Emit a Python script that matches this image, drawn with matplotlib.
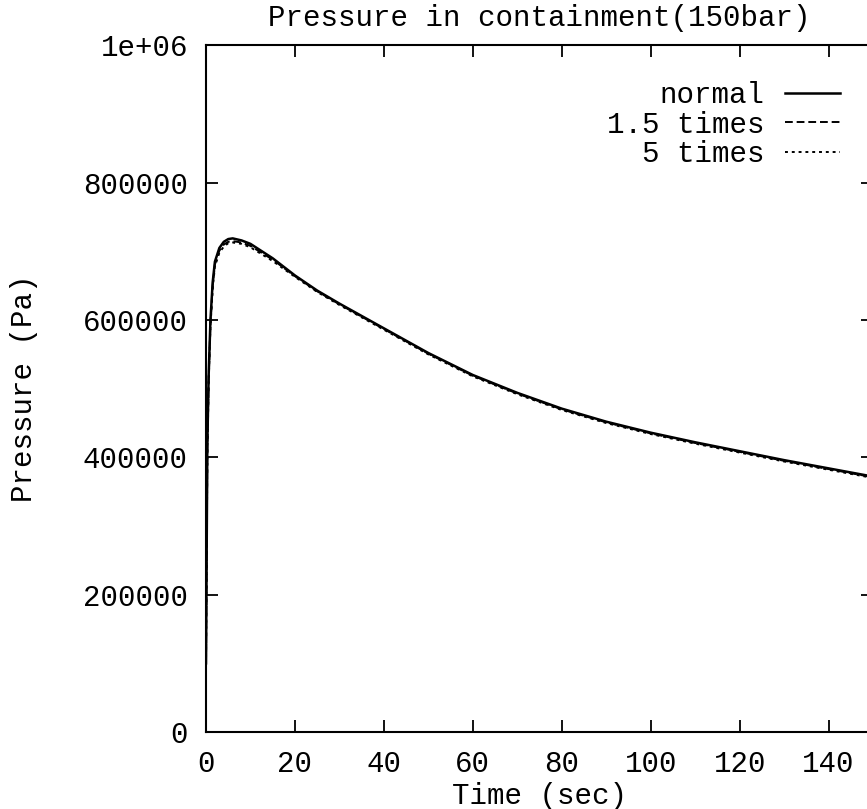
import matplotlib
matplotlib.use("Agg")
import matplotlib.pyplot as plt

# ---------------- DATA ----------------
time = [0, 0.3, 0.6, 1, 1.5, 2, 3, 4, 5, 6, 8, 10, 15, 20, 25, 30, 40, 50,
        60, 70, 80, 90, 100, 110, 120, 130, 140, 150]
normal = [100000, 420000, 520000, 600000, 655000, 685000, 705000, 714000,
          718000, 719000, 716000, 711000, 690000, 665000, 643000, 624000,
          588000, 552000, 520000, 494000, 471000, 452000, 436000, 422000,
          409000, 396000, 384000, 372000]
times_1_5 = [100000, 410000, 515000, 595000, 650000, 681000, 701000, 710000,
             714000, 715000, 713000, 708000, 688000, 664000, 642000, 623000,
             587000, 551000, 519000, 493000, 470000, 451000, 435000, 421000,
             408000, 395000, 383000, 371000]
times_5 = [100000, 400000, 510000, 590000, 645000, 678000, 698000, 707000,
           712000, 713000, 711000, 706000, 686000, 663000, 641000, 622000,
           586000, 550000, 518000, 492000, 469000, 450000, 434000, 420000,
           407000, 394000, 382000, 370000]

labels = ["normal", "1.5 times", "5 times"]
xticks = [0, 20, 40, 60, 80, 100, 120, 140]
yticks = [0, 200000, 400000, 600000, 800000, 1000000]
ytick_labels = ["0", "200000", "400000", "600000", "800000", "1e+06"]

# ---------------- STYLE ----------------
FONT = "Liberation Mono"
FS = 21
plt.rcParams["font.family"] = [FONT, "DejaVu Sans Mono"]
plt.rcParams["font.size"] = FS

fig = plt.figure(figsize=(8.67, 8.09), dpi=100)
ax = fig.add_axes([0.2376, 0.0952, 0.7694, 0.8486])

ax.plot(time, normal, color="black", lw=1.8, label=labels[0])
ax.plot(time, times_1_5, color="black", lw=1.4, dashes=(4, 2), label=labels[1])
ax.plot(time, times_5, color="black", lw=1.4, dashes=(1.5, 2), label=labels[2])

ax.set_xlim(0, 150)
ax.set_ylim(0, 1000000)
ax.set_xticks(xticks)
ax.set_yticks(yticks)
ax.set_yticklabels(ytick_labels)

ax.tick_params(direction="in", length=8.5, width=1.3, top=True, right=True,
               pad=13, labelsize=FS)
for s in ax.spines.values():
    s.set_linewidth(1.5)

ax.set_title("Pressure in containment(150bar)", fontsize=FS, pad=14)
ax.set_xlabel("Time (sec)", fontsize=FS, labelpad=3)
ax.set_ylabel("Pressure (Pa)", fontsize=FS, labelpad=32)

ax.legend(loc="upper right", bbox_to_anchor=(0.9505, 0.948), frameon=False,
          markerfirst=False, labelspacing=0.05, handlelength=1.9,
          handletextpad=0.7, borderpad=0, borderaxespad=0, fontsize=FS)

fig.savefig("out.png", dpi=100)
